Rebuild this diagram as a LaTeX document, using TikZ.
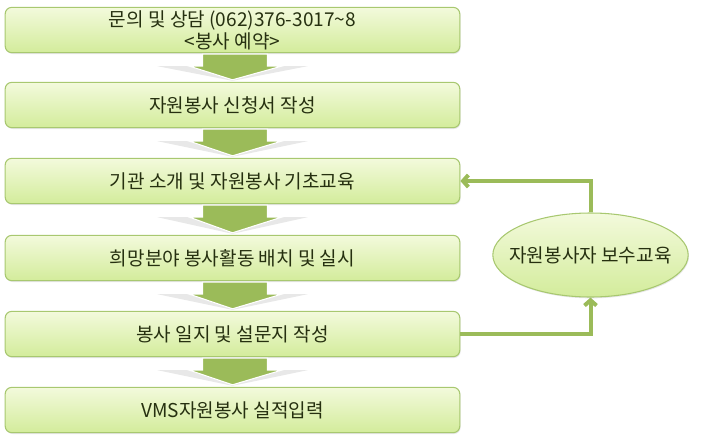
\documentclass[tikz,border=0pt]{standalone}
\usepackage{fontspec}
\newfontfamily\krfont{Noto Sans CJK KR}
\usepackage{tikz}
\usetikzlibrary{arrows.meta,shapes.geometric,shadows,calc}
\definecolor{volgreen}{HTML}{9BBB59}
\definecolor{voledge}{HTML}{A8C870}
\definecolor{voltop}{HTML}{F3FADC}
\definecolor{volbot}{HTML}{D3EC9B}
\definecolor{voltext}{HTML}{263010}
\tikzset{
  stepbox/.style={draw=voledge,line width=0.8pt,rounded corners=5pt,top color=voltop,bottom color=volbot,
    minimum width=341pt,minimum height=34pt,inner sep=1pt,font=\krfont\fontsize{14.3}{16.5}\selectfont,text=voltext,align=center,
    drop shadow={opacity=0.2,shadow xshift=0.6pt,shadow yshift=-1pt}},
  trainoval/.style={ellipse,draw=voledge,line width=0.8pt,top color=voltop,bottom color=volbot,
    minimum width=146pt,minimum height=63pt,inner xsep=-9pt,inner ysep=0pt,font=\krfont\fontsize{14.3}{16.5}\selectfont,text=voltext,
    drop shadow={opacity=0.2,shadow xshift=0.6pt,shadow yshift=-1pt}},
  flowdown/.style={fill=volgreen,draw=white,line width=0.8pt},
  flowshade/.style={fill=gray!18,draw=none},
  loopline/.style={draw=volgreen,line width=3pt,-{Straight Barb[length=4pt,width=9pt]}}
}
\begin{document}
\begin{tikzpicture}[x=0.75pt,y=-0.75pt]
\useasboundingbox (0,0) rectangle (718,440);
\node[stepbox] (s1) at (232.5,30) {문의 및 상담 (062)376-3017\textasciitilde 8\\<봉사 예약>};
\node[stepbox] (s2) at (232.5,105) {자원봉사 신청서 작성};
\node[stepbox] (s3) at (232.5,181) {기관 소개 및 자원봉사 기초교육};
\node[stepbox] (s4) at (232.5,258) {희망분야 봉사활동 배치 및 실시};
\node[stepbox] (s5) at (232.5,334) {봉사 일지 및 설문지 작성};
\node[stepbox] (s6) at (232.5,410) {VMS자원봉사 실적입력};
\node[trainoval] (edu) at (590.5,255) {자원봉사자 보수교육};
% block arrows between the steps
\foreach \a/\b in {s1/s2,s2/s3,s3/s4,s4/s5,s5/s6}{
  \fill[flowshade] ($(\a.south)+(-75,13)$) -- ($(\a.south)+(75,13)$) -- ($(\b.north)+(0,-1)$) -- cycle;
  \draw[flowdown] ($(\a.south)+(-30,1)$) -- ($(\a.south)+(35,1)$) -- ($(\a.south)+(35,13)$)
    -- ($(\a.south)+(49,13)$) -- ($(\b.north)+(0,-2)$) -- ($(\a.south)+(-43,13)$)
    -- ($(\a.south)+(-30,13)$) -- cycle;
}
% refresher training loop
\draw[loopline] (s5.east) -| (edu.south);
\draw[loopline] (edu.north) |- (s3.east);
\end{tikzpicture}
\end{document}
